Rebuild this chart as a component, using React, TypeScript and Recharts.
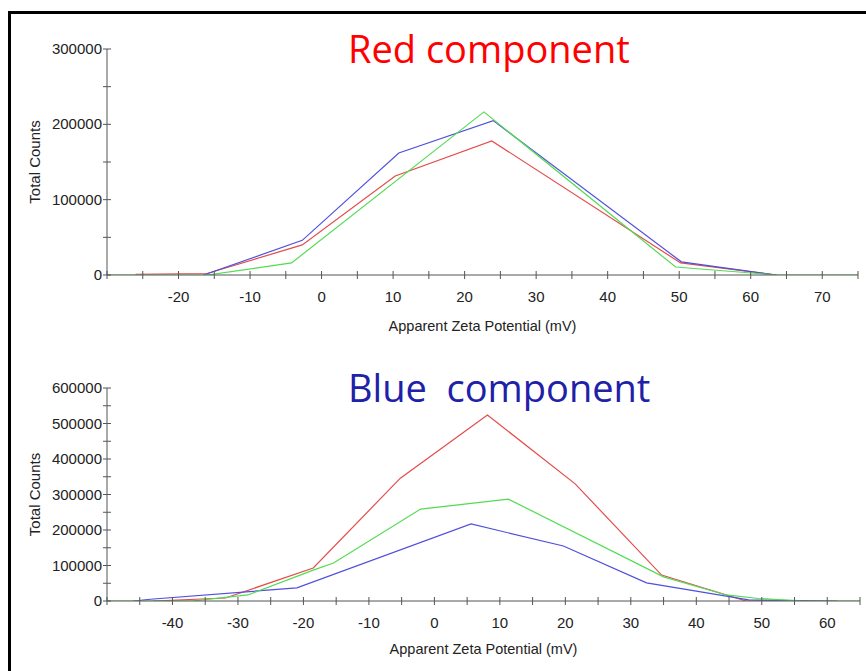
import React from 'react'
import { LineChart, Line, XAxis, YAxis } from 'recharts'

// Red component (top panel)
const redTopX = [-26, -16, -2.7, 10.3, 23.8, 50.2, 63.6]
const redTopY = [1000, 2000, 40000, 131500, 178000, 16000, 0]
const greenTopX = [-30, -16, -4.2, 22.7, 49.5, 63.6, 75]
const greenTopY = [0, 0, 16000, 216500, 10600, 0, 0]
const blueTopX = [-16.5, -2.7, 10.8, 24, 50.3, 63.6]
const blueTopY = [0, 46000, 162000, 205000, 17500, 0]

// Blue component (bottom panel)
const redBotX = [-43, -31.9, -18.5, -5.2, 8.1, 21.5, 34.7, 47.6, 57]
const redBotY = [0, 8500, 93000, 346000, 524000, 330000, 73000, 0, 0]
const greenBotX = [-50, -37, -28.5, -18.5, -15.4, -2.1, 11.3, 35, 44.6, 49.5, 56, 65]
const greenBotY = [0, 0, 17000, 87000, 107000, 259000, 287000, 68000, 17000, 7000, 0, 0]
const blueBotX = [-46, -43.4, -21, 5.6, 19.7, 32.4, 40, 48, 61.5]
const blueBotY = [0, 5000, 37000, 217000, 155000, 51000, 28000, 3000, 0]

const topXTicks = [-30, -25, -20, -15, -10, -5, 0, 5, 10, 15, 20, 25, 30, 35, 40, 45, 50, 55, 60, 65, 70, 75]
const botXTicks = [-50, -45, -40, -35, -30, -25, -20, -15, -10, -5, 0, 5, 10, 15, 20, 25, 30, 35, 40, 45, 50, 55, 60, 65]
const topYTicks = [0, 50000, 100000, 150000, 200000, 250000, 300000]
const botYTicks = [0, 50000, 100000, 150000, 200000, 250000, 300000, 350000, 400000, 450000, 500000, 550000, 600000]

const RED = '#e44c4c'
const GREEN = '#52dc52'
const BLUE = '#5050dc'
const AXIS = '#555'
const FONT = '"Liberation Sans", Arial, sans-serif'

const pts = (xs: number[], ys: number[]) => xs.map((x, i) => ({ x, y: ys[i] }))

const XTick = (props: any) => {
  const { x, y, payload, hide } = props
  const axisY = y - 5
  const v = payload.value
  const show = v % 10 === 0 && v !== hide
  return (
    <g>
      <line x1={x} x2={x} y1={axisY - 4} y2={axisY + 4} stroke={AXIS} />
      {show && (
        <text x={x} y={axisY + 27} textAnchor="middle" fontSize={15} fill="#222" fontFamily={FONT}>
          {v}
        </text>
      )}
    </g>
  )
}

const YTick = (props: any) => {
  const { x, y, payload } = props
  const axisX = x + 5
  const v = payload.value
  return (
    <g>
      <line x1={axisX - 4} x2={axisX + 4} y1={y} y2={y} stroke={AXIS} />
      {v % 100000 === 0 && (
        <text x={axisX - 5} y={y + 5} textAnchor="end" fontSize={15} fill="#222" fontFamily={FONT}>
          {v}
        </text>
      )}
    </g>
  )
}

function Panel(props: {
  height: number
  margin: any
  xDomain: number[]
  xTicks: number[]
  yDomain: number[]
  yTicks: number[]
  xLabelOffset: number
  series: { data: { x: number; y: number }[]; color: string }[]
}) {
  const { height, margin, xDomain, xTicks, yDomain, yTicks, xLabelOffset, series } = props
  return (
    <LineChart width={866} height={height} margin={margin}>
      <XAxis
        type="number"
        dataKey="x"
        domain={xDomain}
        ticks={xTicks}
        interval={0}
        allowDataOverflow
        height={30}
        stroke={AXIS}
        tickLine={false}
        tickSize={5}
        tickMargin={0}
        tick={<XTick hide={xDomain[0]} />}
        label={{
          value: 'Apparent Zeta Potential (mV)',
          position: 'bottom',
          offset: xLabelOffset,
          fontSize: 14.5,
          fill: '#222',
          fontFamily: FONT,
        }}
      />
      <YAxis
        type="number"
        domain={yDomain}
        ticks={yTicks}
        interval={0}
        allowDataOverflow
        width={60}
        stroke={AXIS}
        tickLine={false}
        tickSize={5}
        tickMargin={0}
        tick={<YTick />}
        label={{
          value: 'Total Counts',
          angle: -90,
          position: 'left',
          offset: 12,
          fontSize: 15,
          fill: '#222',
          fontFamily: FONT,
          style: { textAnchor: 'middle' },
        }}
      />
      {series.map((s, i) => (
        <Line
          key={i}
          data={s.data}
          dataKey="y"
          type="linear"
          stroke={s.color}
          strokeWidth={1.2}
          dot={false}
          activeDot={false}
          isAnimationActive={false}
        />
      ))}
    </LineChart>
  )
}

export default function App() {
  const titleStyle: React.CSSProperties = {
    position: 'absolute',
    left: 348,
    fontFamily: '"Open Sans", sans-serif',
    fontSize: 38,
    lineHeight: 'normal',
    whiteSpace: 'pre',
  }
  return (
    <div style={{ position: 'absolute', left: 0, top: 0, width: 866, height: 671, background: '#fff', overflow: 'hidden' }}>
      <div
        style={{
          position: 'absolute',
          left: 8,
          top: 11,
          width: 900,
          height: 700,
          borderLeft: '3px solid #000',
          borderTop: '3px solid #000',
        }}
      />
      <div style={{ position: 'absolute', left: 0, top: 0 }}>
        <Panel
          height={340}
          margin={{ top: 49, right: 8, left: 47, bottom: 35 }}
          xDomain={[-30, 75]}
          xTicks={topXTicks}
          yDomain={[0, 300000]}
          yTicks={topYTicks}
          xLabelOffset={16}
          series={[
            { data: pts(redTopX, redTopY), color: RED },
            { data: pts(blueTopX, blueTopY), color: BLUE },
            { data: pts(greenTopX, greenTopY), color: GREEN },
          ]}
        />
      </div>
      <div style={{ position: 'absolute', left: 0, top: 340 }}>
        <Panel
          height={331}
          margin={{ top: 48, right: 6, left: 47, bottom: 40 }}
          xDomain={[-50, 65]}
          xTicks={botXTicks}
          yDomain={[0, 600000]}
          yTicks={botYTicks}
          xLabelOffset={13}
          series={[
            { data: pts(redBotX, redBotY), color: RED },
            { data: pts(blueBotX, blueBotY), color: BLUE },
            { data: pts(greenBotX, greenBotY), color: GREEN },
          ]}
        />
      </div>
      <div style={{ ...titleStyle, top: 22, color: '#ff0000' }}>Red component</div>
      <div style={{ ...titleStyle, top: 361, color: '#2020a8' }}>{'Blue  component'}</div>
    </div>
  )
}
